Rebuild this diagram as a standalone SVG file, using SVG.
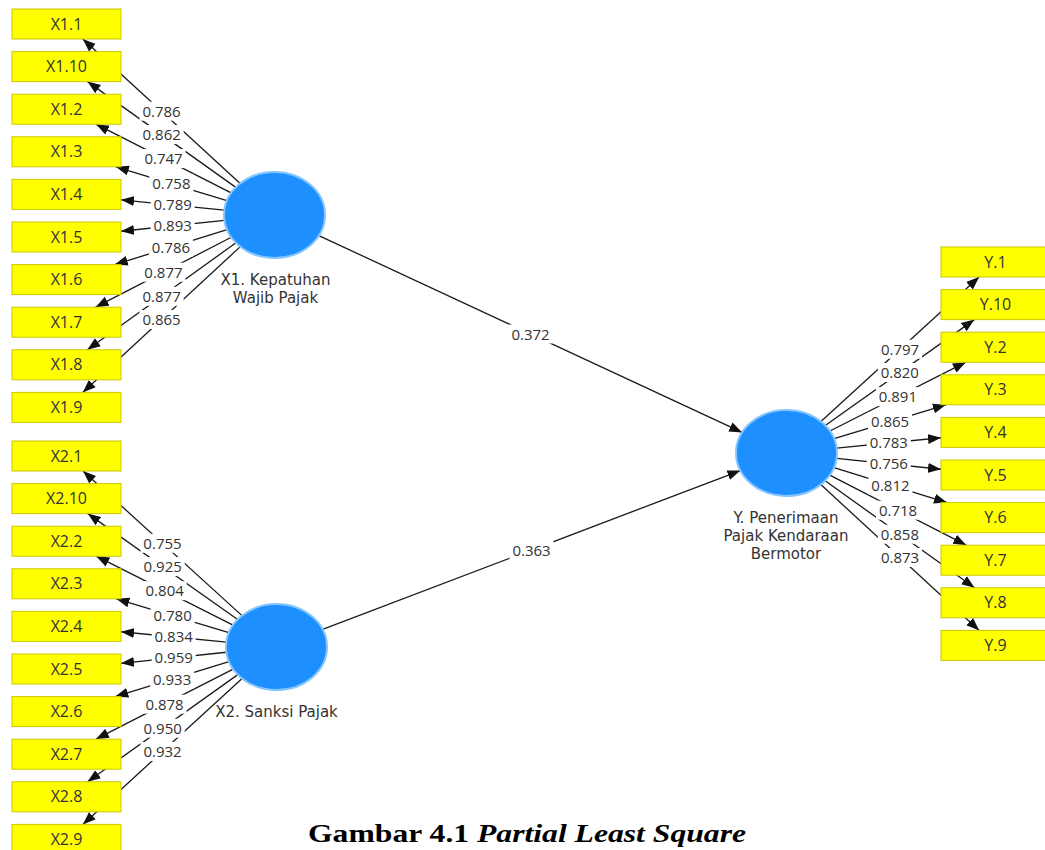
<svg xmlns="http://www.w3.org/2000/svg" width="1045" height="850" viewBox="0 0 1045 850">
<defs>
<marker id="ah" markerUnits="userSpaceOnUse" markerWidth="13" markerHeight="11" viewBox="0 0 13 10" refX="13" refY="5" orient="auto">
<path d="M0,0 L13,5 L0,10 z" fill="#111"/>
</marker>
</defs>
<style>
.ln{stroke:#1a1a1a;stroke-width:1.3;fill:none;marker-end:url(#ah)}
.lb{fill:#fff}
.lt{font-family:"Open Sans","DejaVu Sans",sans-serif;font-size:15px;fill:#333;text-anchor:middle}
.box{fill:#ffff00;stroke:#c9c900;stroke-width:1}
.bt{font-family:"Open Sans","DejaVu Sans",sans-serif;font-size:16px;fill:#333;text-anchor:middle}
.lv{fill:#1e8fff;stroke:#86c6ff;stroke-width:2}
.lvt{font-family:"DejaVu Sans","Open Sans",sans-serif;font-size:15px;fill:#333;text-anchor:middle}
.cap{font-family:"Liberation Serif","Times New Roman",serif;font-size:26px;font-weight:bold;fill:#000}
</style>
<rect width="1045" height="850" fill="#fff"/>
<g id="connectors">
<line class="ln" x1="318.82" y1="235.6" x2="742.18" y2="432.4"/>
<line class="ln" x1="322.61" y1="629.46" x2="740.39" y2="470.54"/>
<line class="ln" x1="240.16" y1="183.47" x2="82.83" y2="39"/>
<line class="ln" x1="235.79" y1="187.38" x2="87.52" y2="81.6"/>
<line class="ln" x1="231.15" y1="192.95" x2="95.99" y2="124.2"/>
<line class="ln" x1="226.94" y1="200.55" x2="115.87" y2="166.8"/>
<line class="ln" x1="224.34" y1="210.03" x2="121" y2="199.8"/>
<line class="ln" x1="224.39" y1="220.3" x2="121" y2="231.24"/>
<line class="ln" x1="227.06" y1="229.73" x2="114.8" y2="264.6"/>
<line class="ln" x1="231.3" y1="237.27" x2="95.6" y2="307.2"/>
<line class="ln" x1="235.94" y1="242.77" x2="87.33" y2="349.8"/>
<line class="ln" x1="240.3" y1="246.64" x2="82.72" y2="392.4"/>
<line class="ln" x1="241.99" y1="615.61" x2="82.99" y2="471"/>
<line class="ln" x1="237.64" y1="619.54" x2="87.73" y2="513.6"/>
<line class="ln" x1="233.04" y1="625.1" x2="96.27" y2="556.2"/>
<line class="ln" x1="228.89" y1="632.67" x2="116.34" y2="598.8"/>
<line class="ln" x1="226.33" y1="642.08" x2="121" y2="631.75"/>
<line class="ln" x1="226.38" y1="652.25" x2="121" y2="663.29"/>
<line class="ln" x1="229" y1="661.61" x2="115.26" y2="696.6"/>
<line class="ln" x1="233.19" y1="669.11" x2="95.89" y2="739.2"/>
<line class="ln" x1="237.79" y1="674.61" x2="87.53" y2="781.8"/>
<line class="ln" x1="242.12" y1="678.5" x2="82.87" y2="824.4"/>
<line class="ln" x1="820.93" y1="421.54" x2="979.09" y2="277"/>
<line class="ln" x1="825.28" y1="425.46" x2="974.37" y2="319.6"/>
<line class="ln" x1="829.91" y1="431.03" x2="965.87" y2="362.2"/>
<line class="ln" x1="834.09" y1="438.61" x2="945.9" y2="404.8"/>
<line class="ln" x1="836.67" y1="448.06" x2="941" y2="437.77"/>
<line class="ln" x1="836.62" y1="458.28" x2="941" y2="469.26"/>
<line class="ln" x1="833.97" y1="467.67" x2="946.97" y2="502.6"/>
<line class="ln" x1="829.76" y1="475.19" x2="966.25" y2="545.2"/>
<line class="ln" x1="825.14" y1="480.69" x2="974.57" y2="587.8"/>
<line class="ln" x1="820.79" y1="484.57" x2="979.21" y2="630.4"/>
<g id="labels">
<rect class="lb" x="508.5" y="324.5" width="44" height="19"/><text class="lt" x="530.5" y="339.5">0.372</text>
<rect class="lb" x="509.5" y="540.5" width="44" height="19"/><text class="lt" x="531.5" y="555.5">0.363</text>
<rect class="lb" x="139.5" y="101.7" width="44" height="19"/><text class="lt" x="161.5" y="116.7">0.786</text>
<rect class="lb" x="139.66" y="124.99" width="44" height="19"/><text class="lt" x="161.66" y="139.99">0.862</text>
<rect class="lb" x="141.57" y="149.08" width="44" height="19"/><text class="lt" x="163.57" y="164.08">0.747</text>
<rect class="lb" x="149.4" y="174.2" width="44" height="19"/><text class="lt" x="171.4" y="189.2">0.758</text>
<rect class="lb" x="150.67" y="195.42" width="44" height="19"/><text class="lt" x="172.67" y="210.42">0.789</text>
<rect class="lb" x="150.7" y="216.27" width="44" height="19"/><text class="lt" x="172.7" y="231.27">0.893</text>
<rect class="lb" x="148.93" y="237.67" width="44" height="19"/><text class="lt" x="170.93" y="252.67">0.786</text>
<rect class="lb" x="141.45" y="262.73" width="44" height="19"/><text class="lt" x="163.45" y="277.73">0.877</text>
<rect class="lb" x="139.64" y="286.79" width="44" height="19"/><text class="lt" x="161.64" y="301.79">0.877</text>
<rect class="lb" x="139.51" y="310.02" width="44" height="19"/><text class="lt" x="161.51" y="325.02">0.865</text>
<rect class="lb" x="140.49" y="533.8" width="44" height="19"/><text class="lt" x="162.49" y="548.8">0.755</text>
<rect class="lb" x="140.69" y="557.07" width="44" height="19"/><text class="lt" x="162.69" y="572.07">0.925</text>
<rect class="lb" x="142.66" y="581.15" width="44" height="19"/><text class="lt" x="164.66" y="596.15">0.804</text>
<rect class="lb" x="150.6" y="606.2" width="44" height="19"/><text class="lt" x="172.6" y="621.2">0.780</text>
<rect class="lb" x="151.67" y="627.4" width="44" height="19"/><text class="lt" x="173.67" y="642.4">0.834</text>
<rect class="lb" x="151.69" y="648.27" width="44" height="19"/><text class="lt" x="173.69" y="663.27">0.959</text>
<rect class="lb" x="150.13" y="669.6" width="44" height="19"/><text class="lt" x="172.13" y="684.6">0.933</text>
<rect class="lb" x="142.54" y="694.66" width="44" height="19"/><text class="lt" x="164.54" y="709.66">0.878</text>
<rect class="lb" x="140.66" y="718.7" width="44" height="19"/><text class="lt" x="162.66" y="733.7">0.950</text>
<rect class="lb" x="140.5" y="741.95" width="44" height="19"/><text class="lt" x="162.5" y="756.95">0.932</text>
<rect class="lb" x="878.01" y="339.77" width="44" height="19"/><text class="lt" x="900.01" y="354.77">0.797</text>
<rect class="lb" x="877.83" y="363.03" width="44" height="19"/><text class="lt" x="899.83" y="378.03">0.820</text>
<rect class="lb" x="875.89" y="387.12" width="44" height="19"/><text class="lt" x="897.89" y="402.12">0.891</text>
<rect class="lb" x="868" y="412.2" width="44" height="19"/><text class="lt" x="890" y="427.2">0.865</text>
<rect class="lb" x="866.83" y="433.42" width="44" height="19"/><text class="lt" x="888.83" y="448.42">0.783</text>
<rect class="lb" x="866.81" y="454.27" width="44" height="19"/><text class="lt" x="888.81" y="469.27">0.756</text>
<rect class="lb" x="868.47" y="475.64" width="44" height="19"/><text class="lt" x="890.47" y="490.64">0.812</text>
<rect class="lb" x="876" y="500.7" width="44" height="19"/><text class="lt" x="898" y="515.7">0.718</text>
<rect class="lb" x="877.86" y="524.75" width="44" height="19"/><text class="lt" x="899.86" y="539.75">0.858</text>
<rect class="lb" x="878" y="547.99" width="44" height="19"/><text class="lt" x="900" y="562.99">0.873</text>
</g>
</g>
<g id="X1.1"><rect class="box" x="12" y="9" width="109" height="30"/><text class="bt" x="66.5" y="29.5">X1.1</text></g>
<g id="X1.10"><rect class="box" x="12" y="51.6" width="109" height="30"/><text class="bt" x="66.5" y="72.1">X1.10</text></g>
<g id="X1.2"><rect class="box" x="12" y="94.2" width="109" height="30"/><text class="bt" x="66.5" y="114.7">X1.2</text></g>
<g id="X1.3"><rect class="box" x="12" y="136.8" width="109" height="30"/><text class="bt" x="66.5" y="157.3">X1.3</text></g>
<g id="X1.4"><rect class="box" x="12" y="179.4" width="109" height="30"/><text class="bt" x="66.5" y="199.9">X1.4</text></g>
<g id="X1.5"><rect class="box" x="12" y="222" width="109" height="30"/><text class="bt" x="66.5" y="242.5">X1.5</text></g>
<g id="X1.6"><rect class="box" x="12" y="264.6" width="109" height="30"/><text class="bt" x="66.5" y="285.1">X1.6</text></g>
<g id="X1.7"><rect class="box" x="12" y="307.2" width="109" height="30"/><text class="bt" x="66.5" y="327.7">X1.7</text></g>
<g id="X1.8"><rect class="box" x="12" y="349.8" width="109" height="30"/><text class="bt" x="66.5" y="370.3">X1.8</text></g>
<g id="X1.9"><rect class="box" x="12" y="392.4" width="109" height="30"/><text class="bt" x="66.5" y="412.9">X1.9</text></g>
<g id="X2.1"><rect class="box" x="12" y="441" width="109" height="30"/><text class="bt" x="66.5" y="461.5">X2.1</text></g>
<g id="X2.10"><rect class="box" x="12" y="483.6" width="109" height="30"/><text class="bt" x="66.5" y="504.1">X2.10</text></g>
<g id="X2.2"><rect class="box" x="12" y="526.2" width="109" height="30"/><text class="bt" x="66.5" y="546.7">X2.2</text></g>
<g id="X2.3"><rect class="box" x="12" y="568.8" width="109" height="30"/><text class="bt" x="66.5" y="589.3">X2.3</text></g>
<g id="X2.4"><rect class="box" x="12" y="611.4" width="109" height="30"/><text class="bt" x="66.5" y="631.9">X2.4</text></g>
<g id="X2.5"><rect class="box" x="12" y="654" width="109" height="30"/><text class="bt" x="66.5" y="674.5">X2.5</text></g>
<g id="X2.6"><rect class="box" x="12" y="696.6" width="109" height="30"/><text class="bt" x="66.5" y="717.1">X2.6</text></g>
<g id="X2.7"><rect class="box" x="12" y="739.2" width="109" height="30"/><text class="bt" x="66.5" y="759.7">X2.7</text></g>
<g id="X2.8"><rect class="box" x="12" y="781.8" width="109" height="30"/><text class="bt" x="66.5" y="802.3">X2.8</text></g>
<g id="X2.9"><rect class="box" x="12" y="824.4" width="109" height="30"/><text class="bt" x="66.5" y="844.9">X2.9</text></g>
<g id="Y.1"><rect class="box" x="941" y="247" width="109" height="30"/><text class="bt" x="995.5" y="267.5">Y.1</text></g>
<g id="Y.10"><rect class="box" x="941" y="289.6" width="109" height="30"/><text class="bt" x="995.5" y="310.1">Y.10</text></g>
<g id="Y.2"><rect class="box" x="941" y="332.2" width="109" height="30"/><text class="bt" x="995.5" y="352.7">Y.2</text></g>
<g id="Y.3"><rect class="box" x="941" y="374.8" width="109" height="30"/><text class="bt" x="995.5" y="395.3">Y.3</text></g>
<g id="Y.4"><rect class="box" x="941" y="417.4" width="109" height="30"/><text class="bt" x="995.5" y="437.9">Y.4</text></g>
<g id="Y.5"><rect class="box" x="941" y="460" width="109" height="30"/><text class="bt" x="995.5" y="480.5">Y.5</text></g>
<g id="Y.6"><rect class="box" x="941" y="502.6" width="109" height="30"/><text class="bt" x="995.5" y="523.1">Y.6</text></g>
<g id="Y.7"><rect class="box" x="941" y="545.2" width="109" height="30"/><text class="bt" x="995.5" y="565.7">Y.7</text></g>
<g id="Y.8"><rect class="box" x="941" y="587.8" width="109" height="30"/><text class="bt" x="995.5" y="608.3">Y.8</text></g>
<g id="Y.9"><rect class="box" x="941" y="630.4" width="109" height="30"/><text class="bt" x="995.5" y="650.9">Y.9</text></g>
<g id="X1"><ellipse class="lv" cx="274.5" cy="215" rx="50.5" ry="43"/><text class="lvt" x="275.5" y="285">X1. Kepatuhan</text><text class="lvt" x="275.5" y="303">Wajib Pajak</text></g>
<g id="X2"><ellipse class="lv" cx="276.5" cy="647" rx="50.5" ry="43"/><text class="lvt" x="276.5" y="717">X2. Sanksi Pajak</text></g>
<g id="Y"><ellipse class="lv" cx="786.5" cy="453" rx="50.5" ry="43"/><text class="lvt" x="786" y="523">Y. Penerimaan</text><text class="lvt" x="786" y="541">Pajak Kendaraan</text><text class="lvt" x="786" y="559">Bermotor</text></g>
<text class="cap" x="308" y="842" textLength="438" lengthAdjust="spacingAndGlyphs">Gambar 4.1 <tspan font-style="italic">Partial Least Square</tspan></text>
</svg>
